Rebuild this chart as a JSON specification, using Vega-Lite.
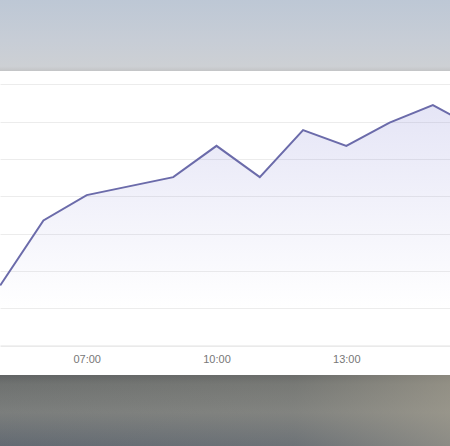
{
  "$schema": "https://vega.github.io/schema/vega-lite/v6.json",
  "width": 450,
  "height": 446,
  "autosize": {"type": "none"},
  "padding": 0,
  "background": "white",
  "config": {
    "font": "Liberation Sans",
    "view": {"stroke": null}
  },
  "datasets": {
    "series": [
      {"hour": 5, "value": 16.1},
      {"hour": 6, "value": 33.5},
      {"hour": 7, "value": 40.3},
      {"hour": 8, "value": 42.7},
      {"hour": 9, "value": 45.1},
      {"hour": 10, "value": 53.5},
      {"hour": 11, "value": 45.1},
      {"hour": 12, "value": 57.7},
      {"hour": 13, "value": 53.5},
      {"hour": 14, "value": 59.7},
      {"hour": 15, "value": 64.4},
      {"hour": 16, "value": 58.1}
    ],
    "above": [{"from": 4, "to": 17, "low": 73.54, "high": 94}],
    "below": [{"from": 4, "to": 17, "low": -28, "high": -7.87}]
  },
  "encoding": {
    "x": {
      "field": "hour",
      "type": "quantitative",
      "scale": {"domain": [4.996, 15.396], "nice": false, "zero": false},
      "axis": {
        "values": [7, 10, 13],
        "labelExpr": "(datum.value < 10 ? '0' : '') + datum.value + ':00'",
        "title": null,
        "grid": false,
        "ticks": false,
        "tickSize": 0,
        "offset": -100.4,
        "domainColor": "#dcdcdc",
        "labelColor": "#777777",
        "labelFontSize": 11,
        "labelPadding": 8
      }
    },
    "y": {
      "field": "value",
      "type": "quantitative",
      "scale": {"domain": [-26.89, 92.55], "nice": false, "zero": false},
      "axis": {
        "values": [10, 20, 30, 40, 50, 60, 70],
        "title": null,
        "labels": false,
        "ticks": false,
        "domain": false,
        "gridColor": "#ececec"
      }
    }
  },
  "layer": [
    {
      "data": {"name": "series"},
      "mark": {
        "type": "area",
        "clip": true,
        "fill": {
          "gradient": "linear",
          "x1": 0, "y1": 0, "x2": 0, "y2": 1,
          "stops": [
            {"offset": 0, "color": "rgba(110,110,205,0.18)"},
            {"offset": 0.85, "color": "rgba(110,110,205,0)"}
          ]
        }
      }
    },
    {
      "data": {"name": "series"},
      "mark": {"type": "line", "clip": true, "color": "#6b6baa", "strokeWidth": 2}
    },
    {
      "data": {"name": "above"},
      "mark": {
        "type": "rect",
        "clip": true,
        "fill": {
          "gradient": "linear",
          "x1": 0, "y1": 0, "x2": 0, "y2": 1,
          "stops": [
            {"offset": 0, "color": "#bcc7d5"},
            {"offset": 0.6, "color": "#c7cdd6"},
            {"offset": 0.94, "color": "#cdd0d4"},
            {"offset": 1, "color": "#c3c4c6"}
          ]
        }
      },
      "encoding": {
        "x": {"field": "from", "type": "quantitative"},
        "x2": {"field": "to"},
        "y": {"field": "low", "type": "quantitative"},
        "y2": {"field": "high"}
      }
    },
    {
      "data": {"name": "below"},
      "mark": {
        "type": "rect",
        "clip": true,
        "fill": {
          "gradient": "linear",
          "x1": 0, "y1": 0, "x2": 0, "y2": 1,
          "stops": [
            {"offset": 0, "color": "#5f6263"},
            {"offset": 0.12, "color": "#6e7170"},
            {"offset": 0.5, "color": "#7a7d7c"},
            {"offset": 1, "color": "#5e6670"}
          ]
        }
      },
      "encoding": {
        "x": {"field": "from", "type": "quantitative"},
        "x2": {"field": "to"},
        "y": {"field": "low", "type": "quantitative"},
        "y2": {"field": "high"}
      }
    },
    {
      "data": {"name": "below"},
      "mark": {
        "type": "rect",
        "clip": true,
        "fill": {
          "gradient": "linear",
          "x1": 0, "y1": 0, "x2": 1, "y2": 0,
          "stops": [
            {"offset": 0, "color": "rgba(175,168,150,0)"},
            {"offset": 0.6, "color": "rgba(175,168,150,0.15)"},
            {"offset": 1, "color": "rgba(180,172,152,0.7)"}
          ]
        }
      },
      "encoding": {
        "x": {"field": "from", "type": "quantitative"},
        "x2": {"field": "to"},
        "y": {"field": "low", "type": "quantitative"},
        "y2": {"field": "high"}
      }
    }
  ]
}
